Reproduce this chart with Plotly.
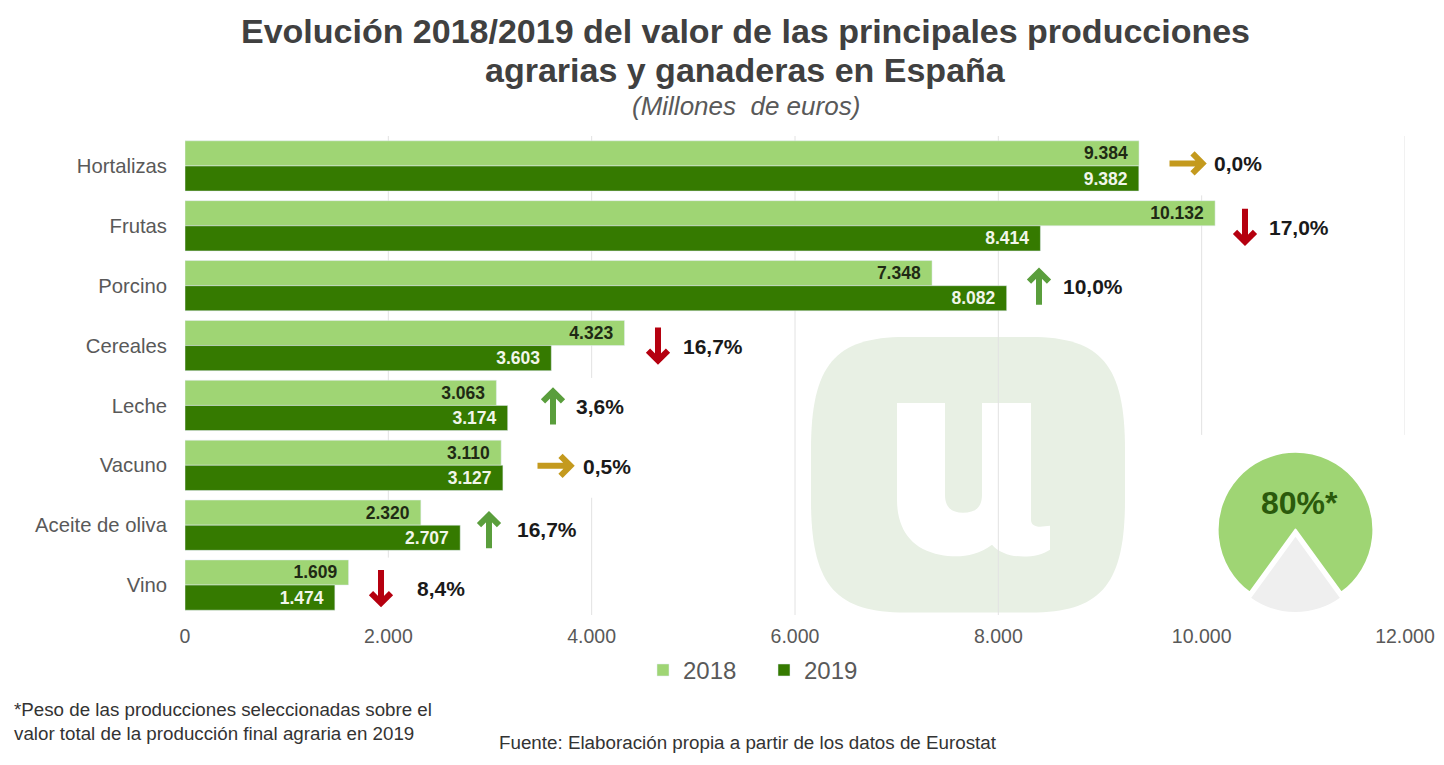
import plotly.graph_objects as go

categories = ["Hortalizas", "Frutas", "Porcino", "Cereales", "Leche", "Vacuno", "Aceite de oliva", "Vino"]
values_2018 = [9384, 10132, 7348, 4323, 3063, 3110, 2320, 1609]
values_2019 = [9382, 8414, 8082, 3603, 3174, 3127, 2707, 1474]
labels_2018 = ["9.384", "10.132", "7.348", "4.323", "3.063", "3.110", "2.320", "1.609"]
labels_2019 = ["9.382", "8.414", "8.082", "3.603", "3.174", "3.127", "2.707", "1.474"]
changes = ["0,0%", "17,0%", "10,0%", "16,7%", "3,6%", "0,5%", "16,7%", "8,4%"]
directions = ["flat", "down", "up", "down", "up", "flat", "up", "down"]
tick_values = [0, 2000, 4000, 6000, 8000, 10000, 12000]
tick_labels = ["0", "2.000", "4.000", "6.000", "8.000", "10.000", "12.000"]
share_slices = [80, 20]

PAGE = 8  # browser body margin
W, H = 1444 - 2 * PAGE, 765 - 2 * PAGE
L, R, T, B = 185, 1405, 135.5, 615.5  # plot area in page pixels
def px(x): return (x - L) / (R - L)
def py(y): return (B - y) / (B - T)

C18, C19 = "#9FD574", "#357A00"
GREY, DARK = "#595959", "#1A1A1A"
ARROW = {"up": "#5A9E3C", "down": "#B5000F", "flat": "#C49A1E"}
# arrow centre and label start, in page pixels, per row
arrow_pos = [(1187, 163), (1245, 226), (1039, 287), (658, 345), (553, 407), (555, 466), (489, 531), (381, 588)]
label_pos = [1212, 1267, 1061, 681, 574, 581, 515, 415]
label_y = [163, 227, 286, 346, 407, 467, 530, 589]

fig = go.Figure()
for name, vals, txt, col, tcol in [("2018", values_2018, labels_2018, C18, "#1F2A14"),
                                   ("2019", values_2019, labels_2019, C19, "#F1F6EA")]:
    fig.add_trace(go.Bar(name=name, y=categories, x=vals, orientation="h", marker_color=col,
                         text=[t + "\u00a0\u2009" for t in txt], textposition="inside", insidetextanchor="end",
                         textangle=0, constraintext="none", cliponaxis=False,
                         textfont=dict(family="Liberation Sans", size=17.5, color=tcol, weight="bold")))
fig.add_trace(go.Pie(values=share_slices, sort=False, direction="clockwise", rotation=216,
                     marker=dict(colors=["#9FD574", "#EFEFEF"], line=dict(color="white", width=2)),
                     pull=[0, 0.07], textinfo="none", hoverinfo="skip", showlegend=False,
                     domain=dict(x=[px(1295.5 - 83.5), px(1295.5 + 83.5)], y=[py(530 + 83.5), py(530 - 83.5)])))

def conv(path):
    out = []
    for tok in path.split():
        if "," in tok:
            a, b = tok.split(",")
            out.append(f"{px(float(a)):.5f},{py(float(b)):.5f}")
        else:
            out.append(tok)
    return " ".join(out)

shapes = []
# logo
logo = ("M 905,337 C 835,337 811,365 811,450 L 811,500 C 811,585 835,613 905,613 L 1031,613 "
        "C 1101,613 1125,585 1125,500 L 1125,450 C 1125,365 1101,337 1031,337 Z")
shapes.append(dict(type="path", xref="paper", yref="paper", path=conv(logo), fillcolor="#E8F0E4", line_width=0, layer="below"))
letter = ("M 897,403 L 945,403 L 945,495 C 945,508 952,513 963,513 C 975,513 982,508 982,495 L 982,403 L 1031,403 "
          "L 1031,520 C 1031,525 1035,527 1040,527 L 1050,526 L 1050,550 C 1035,560 1005,560 992,545 "
          "C 975,558 955,558 940,555 C 912,550 897,530 897,500 Z")
shapes.append(dict(type="path", xref="paper", yref="paper", path=conv(letter), fillcolor="white", line_width=0, layer="below"))
# gridline segments (page y ranges)
grid = [(2000, 135.5, 558), (4000, 135.5, 378), (4000, 498, 615.5), (6000, 135.5, 615.5),
        (8000, 135.5, 615.5), (10000, 195, 435), (12000, 135.5, 435)]
for gx, y0, y1 in grid:
    shapes.append(dict(type="line", xref="x", yref="paper", x0=gx, x1=gx, y0=py(y0), y1=py(y1),
                       line=dict(color="#E2E2E2", width=1), layer="below"))
# arrows
s, h, w = 17.5, 12, 10
for (ax, ay), d in zip(arrow_pos, directions):
    if d == "up":
        p = f"M {ax},{ay+s} L {ax},{ay-s+3} M {ax-w},{ay-s+h} L {ax},{ay-s+2} L {ax+w},{ay-s+h}"
    elif d == "down":
        p = f"M {ax},{ay-s} L {ax},{ay+s-3} M {ax-w},{ay+s-h} L {ax},{ay+s-2} L {ax+w},{ay+s-h}"
    else:
        p = f"M {ax-s},{ay} L {ax+s-3},{ay} M {ax+s-h},{ay-w} L {ax+s-2},{ay} L {ax+s-h},{ay+w}"
    shapes.append(dict(type="path", xref="paper", yref="paper", path=conv(p),
                       line=dict(color=ARROW[d], width=6), layer="above"))

ann = []
def note(text, x, y, size, color, anchor="left", **font):
    ann.append(dict(text=text, xref="paper", yref="paper", x=px(x), y=py(y), xanchor=anchor, yanchor="middle",
                    showarrow=False, align="left", font=dict(family="Liberation Sans", size=size, color=color, **font)))
for c, x, y in zip(changes, label_pos, label_y):
    note(c, x, y, 21, DARK, weight="bold")
note("agrarias y ganaderas en España", 745.5, 69, 34, "#404040", "center", weight="bold")
note("(Millones&nbsp; de euros)", 746, 105, 26, GREY, "center", style="italic")
note("80%*", 1299, 503, 32, "#2B5A0C", "center", weight="bold")
note("*Peso de las producciones seleccionadas sobre el<br>valor total de la producción final agraria en 2019",
     12, 722, 18.75, "#333333")
note("Fuente: Elaboración propia a partir de los datos de Eurostat", 497, 743, 18.8, "#333333")

fig.update_layout(
    width=W, height=H, margin=dict(l=L - PAGE, r=W - (R - PAGE), t=T - PAGE, b=H - (B - PAGE)),
    paper_bgcolor="white", plot_bgcolor="rgba(0,0,0,0)",
    barmode="group", bargap=0.16, bargroupgap=0,
    font=dict(family="Liberation Sans", color=GREY),
    title=dict(text="Evolución 2018/2019 del valor de las principales producciones",
               x=(745.5 - PAGE) / W, xanchor="center", xref="container",
               y=1 - (31 - PAGE) / H, yanchor="middle", yref="container",
               font=dict(family="Liberation Sans", size=34, color="#404040", weight="bold")),
    xaxis=dict(range=[0, 12000], tickvals=tick_values, ticktext=tick_labels, showgrid=False, zeroline=False,
               automargin=False, showline=False, ticks="", ticklabelstandoff=7,
               tickfont=dict(size=19.5, color=GREY), fixedrange=True),
    yaxis=dict(autorange="reversed", showgrid=False, zeroline=False, showline=False, ticks="", automargin=False,
               ticklabelstandoff=17, tickfont=dict(size=20.3, color=GREY), fixedrange=True),
    legend=dict(orientation="h", x=px(643), xanchor="left", y=py(671), yanchor="middle",
                entrywidth=76, entrywidthmode="pixels",
                font=dict(size=24, color=GREY), bgcolor="rgba(0,0,0,0)"),
    shapes=shapes, annotations=ann,
)
fig.write_html("out.html")
